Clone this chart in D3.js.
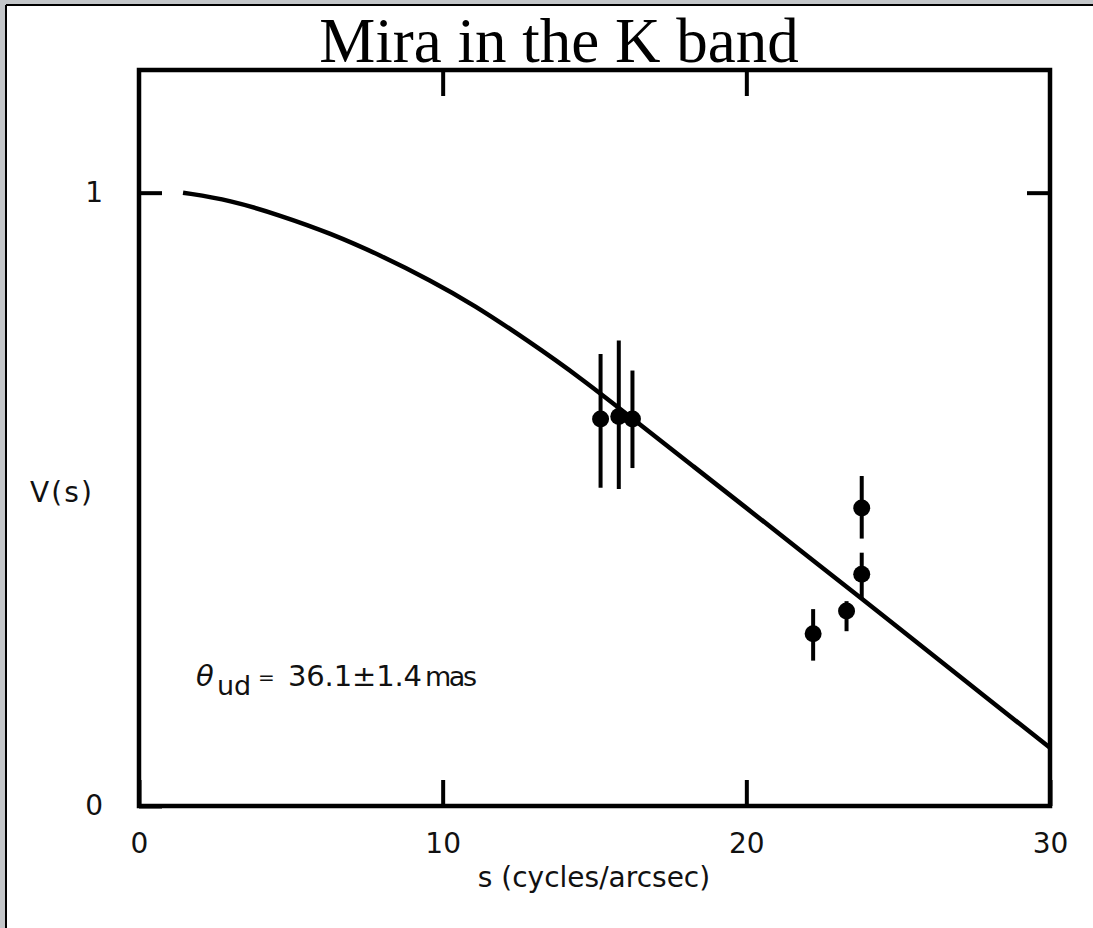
<!DOCTYPE html>
<html><head><meta charset="utf-8">
<script src="https://cdn.jsdelivr.net/npm/d3@7"></script>
<style>
html,body{margin:0;padding:0;background:#c3c6c9;}
svg{display:block;}
</style></head>
<body>
<script>
// ---- data ----
const title = "Mira in the K band";
const xLabel = "s (cycles/arcsec)";
const yLabel = "V(s)";
const xTicks = [0, 10, 20, 30];
const yTicks = [0, 1];
const topTicks = [10, 20];
const sideTicks = [1];
// uniform-disk fit curve
const curveS = [1.45, 3.0, 4.65, 6.3, 7.95, 9.6, 11.0, 12.8, 14.55, 16.5, 18.25, 20.0, 21.8, 23.8, 25.0, 27.0, 30.0];
const curveV = [1.0, 0.988, 0.963, 0.934, 0.898, 0.857, 0.818, 0.759, 0.698, 0.622, 0.554, 0.486, 0.416, 0.338, 0.291, 0.212, 0.095];
// measurements
const pointS  = [15.2, 15.8, 16.25, 23.8, 23.8, 23.3, 22.2];
const pointV  = [0.631, 0.635, 0.631, 0.486, 0.378, 0.318, 0.281];
const pointLo = [0.519, 0.517, 0.551, 0.436, 0.339, 0.285, 0.237];
const pointHi = [0.737, 0.759, 0.710, 0.538, 0.413, 0.334, 0.321];

const W = 1093, H = 928;
const svg = d3.select("body").append("svg").attr("width", W).attr("height", H);

// page background
svg.append("rect").attr("x",0).attr("y",0).attr("width",W).attr("height",H).attr("fill","#c3c6c9");
svg.append("rect").attr("x",7).attr("y",6).attr("width",W-7).attr("height",H-6).attr("fill","#fff");
svg.append("line").attr("x1",6).attr("x2",6).attr("y1",5).attr("y2",H).attr("stroke","#000").attr("stroke-width",2);
svg.append("line").attr("x1",6).attr("x2",W).attr("y1",5).attr("y2",5).attr("stroke","#000").attr("stroke-width",2);

const x = d3.scaleLinear().domain([0,30]).range([139,1050]);
const y = d3.scaleLinear().domain([0,1.2]).range([806,70]);

const sansFont = "'DejaVu Sans', 'Noto Sans', sans-serif";

// title
svg.append("text").attr("x",559).attr("y",62).attr("text-anchor","middle")
  .attr("font-family","'Liberation Serif','Times New Roman',serif").attr("font-size",63)
  .attr("fill","#000").text(title);

// axes
function styleAxis(g){
  g.select(".domain").remove();
  g.selectAll(".tick line").attr("stroke","#000").attr("stroke-width",4);
  g.selectAll(".tick text").attr("font-family",sansFont).attr("font-size",28).attr("fill","#111");
}
svg.append("g").attr("transform",`translate(0,${y(0)})`)
  .call(d3.axisBottom(x).tickValues(xTicks).tickSize(-26).tickPadding(27).tickFormat(d3.format("d")))
  .call(styleAxis);
svg.append("g").attr("transform",`translate(0,${y(1.2)})`)
  .call(d3.axisTop(x).tickValues(topTicks).tickSize(-26).tickFormat(""))
  .call(styleAxis);
svg.append("g").attr("transform",`translate(${x(0)},0)`)
  .call(d3.axisLeft(y).tickValues(yTicks).tickSize(-23).tickPadding(36).tickFormat(d3.format("d")))
  .call(styleAxis);
svg.append("g").attr("transform",`translate(${x(30)},0)`)
  .call(d3.axisRight(y).tickValues(sideTicks).tickSize(-23).tickFormat(""))
  .call(styleAxis);

// frame
svg.append("rect").attr("x",x(0)).attr("y",y(1.2)).attr("width",x(30)-x(0)).attr("height",y(0)-y(1.2))
  .attr("fill","none").attr("stroke","#000").attr("stroke-width",4.5);

// axis labels
svg.append("text").attr("x",594).attr("y",887).attr("text-anchor","middle")
  .attr("font-family",sansFont).attr("font-size",28).attr("fill","#111").text(xLabel);
svg.append("text").attr("x",30).attr("y",502).attr("textLength",62)
  .attr("font-family",sansFont).attr("font-size",28).attr("fill","#111").text(yLabel);

// fit curve
const line = d3.line().x((d,i)=>x(curveS[i])).y((d,i)=>y(curveV[i])).curve(d3.curveBasis);
svg.append("path").datum(curveS).attr("d",line).attr("fill","none").attr("stroke","#000").attr("stroke-width",4.5);

// error bars and points
const pts = pointS.map((s,i)=>({s, v:pointV[i], lo:pointLo[i], hi:pointHi[i]}));
svg.append("g").selectAll("line").data(pts).join("line")
  .attr("x1",d=>x(d.s)).attr("x2",d=>x(d.s)).attr("y1",d=>y(d.lo)).attr("y2",d=>y(d.hi))
  .attr("stroke","#000").attr("stroke-width",4);
svg.append("g").selectAll("circle").data(pts).join("circle")
  .attr("cx",d=>x(d.s)).attr("cy",d=>y(d.v)).attr("r",8.5).attr("fill","#000");

// annotation
const ann = svg.append("g").attr("font-family",sansFont).attr("fill","#111");
ann.append("text").attr("x",196).attr("y",686).attr("font-size",29).attr("font-style","italic").text("θ");
ann.append("text").attr("x",217).attr("y",695).attr("font-size",27).text("ud");
ann.append("text").attr("x",258).attr("y",684).attr("font-size",20).text("=");
ann.append("text").attr("x",288).attr("y",686).attr("font-size",29).attr("textLength",134).text("36.1±1.4");
ann.append("text").attr("x",425).attr("y",686).attr("font-size",27).attr("textLength",52).text("mas");
</script>
</body></html>
